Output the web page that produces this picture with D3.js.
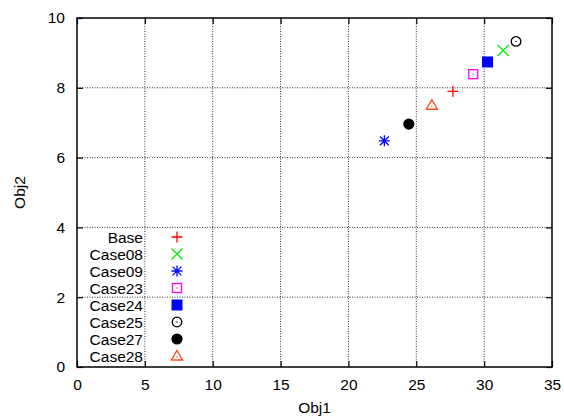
<!DOCTYPE html>
<html>
<head>
<meta charset="utf-8">
<script src="https://cdn.jsdelivr.net/npm/d3@7"></script>
<style>
body { margin: 0; background: #fff; }
text { font-family: "Liberation Sans", Arial, sans-serif; }
</style>
</head>
<body>
<div id="chart"></div>
<script>
const cases = ["Base", "Case08", "Case09", "Case23", "Case24", "Case25", "Case27", "Case28"];
const obj1 = [27.7, 31.4, 22.65, 29.2, 30.25, 32.35, 24.45, 26.15];
const obj2 = [7.9, 9.07, 6.48, 8.39, 8.74, 9.33, 6.96, 7.5];
const colors = ["#ff0000", "#00ee00", "#0000ff", "#ff00ff", "#0000ff", "#000000", "#000000", "#ff5020"];
const shapes = ["plus", "cross", "star", "openSquare", "square", "openCircle", "circle", "openTriangle"];
const xTicks = [0, 5, 10, 15, 20, 25, 30, 35];
const yTicks = [0, 2, 4, 6, 8, 10];

const width = 564, height = 417;
const margin = {top: 18, right: 12, bottom: 50, left: 77};
const fs = 15.5;

const svg = d3.select('#chart').append('svg')
  .attr('width', width).attr('height', height);

const x = d3.scaleLinear().domain([0, 35]).range([margin.left, width - margin.right]);
const y = d3.scaleLinear().domain([0, 10]).range([height - margin.bottom, margin.top]);

// grid
svg.append('g').selectAll('line').data(xTicks.slice(1, -1)).join('line')
  .attr('x1', d => x(d)).attr('x2', d => x(d))
  .attr('y1', y(0)).attr('y2', y(10))
  .attr('stroke', '#333').attr('stroke-width', 1).attr('stroke-dasharray', '1,1.5');
svg.append('g').selectAll('line').data(yTicks.slice(1, -1)).join('line')
  .attr('x1', x(0)).attr('x2', x(35))
  .attr('y1', d => y(d)).attr('y2', d => y(d))
  .attr('stroke', '#333').attr('stroke-width', 1).attr('stroke-dasharray', '1,1.5');

// axes with inward ticks
const xAxis = svg.append('g').attr('transform', `translate(0,${y(0)})`)
  .call(d3.axisBottom(x).tickValues(xTicks).tickSize(-6).tickPadding(12));
const xTop = svg.append('g').attr('transform', `translate(0,${y(10)})`)
  .call(d3.axisTop(x).tickValues(xTicks).tickSize(-6).tickFormat(''));
const yAxis = svg.append('g').attr('transform', `translate(${x(0)},0)`)
  .call(d3.axisLeft(y).tickValues(yTicks).tickSize(-6).tickPadding(12));
const yRight = svg.append('g').attr('transform', `translate(${x(35)},0)`)
  .call(d3.axisRight(y).tickValues(yTicks).tickSize(-6).tickFormat(''));
[xAxis, xTop, yAxis, yRight].forEach(g => {
  g.select('.domain').remove();
  g.selectAll('line').attr('stroke', '#000').attr('stroke-width', 1.2);
  g.selectAll('text').attr('font-size', fs).attr('fill', '#000')
    .style('font-family', '"Liberation Sans", Arial, sans-serif');
});

svg.append('rect')
  .attr('x', x(0)).attr('y', y(10))
  .attr('width', x(35) - x(0)).attr('height', y(0) - y(10))
  .attr('fill', 'none').attr('stroke', '#000').attr('stroke-width', 1.5);

// axis titles
svg.append('text').attr('x', (x(0) + x(35)) / 2).attr('y', 413)
  .attr('text-anchor', 'middle').attr('font-size', fs).text('Obj1');
svg.append('text').attr('transform', `translate(25,${(y(0) + y(10)) / 2}) rotate(-90)`)
  .attr('text-anchor', 'middle').attr('font-size', fs).text('Obj2');

function drawMarker(g, shape, color) {
  const s = 5.5;
  if (shape === 'plus') {
    g.append('path').attr('d', `M${-s},0H${s}M0,${-s}V${s}`)
      .attr('stroke', color).attr('stroke-width', 1.3).attr('fill', 'none');
  } else if (shape === 'cross') {
    g.append('path').attr('d', `M${-s},${-s}L${s},${s}M${-s},${s}L${s},${-s}`)
      .attr('stroke', color).attr('stroke-width', 1.3).attr('fill', 'none');
  } else if (shape === 'star') {
    g.append('path').attr('d', `M${-s},0H${s}M0,${-s}V${s}M${-s*0.8},${-s*0.8}L${s*0.8},${s*0.8}M${-s*0.8},${s*0.8}L${s*0.8},${-s*0.8}`)
      .attr('stroke', color).attr('stroke-width', 1.3).attr('fill', 'none');
  } else if (shape === 'openSquare') {
    g.append('rect').attr('x', -4.5).attr('y', -4.5).attr('width', 9).attr('height', 9)
      .attr('stroke', color).attr('stroke-width', 1.3).attr('fill', 'none');
    g.append('rect').attr('x', -0.6).attr('y', -0.6).attr('width', 1.2).attr('height', 1.2).attr('fill', color);
  } else if (shape === 'square') {
    g.append('rect').attr('x', -5.5).attr('y', -5.5).attr('width', 11).attr('height', 11).attr('fill', color);
  } else if (shape === 'openCircle') {
    g.append('circle').attr('r', 4.8).attr('stroke', color).attr('stroke-width', 1.3).attr('fill', 'none');
    g.append('circle').attr('r', 0.7).attr('fill', color);
  } else if (shape === 'circle') {
    g.append('circle').attr('r', 5.6).attr('fill', color);
  } else if (shape === 'openTriangle') {
    g.append('path').attr('d', 'M0,-5.5L5.5,4L-5.5,4Z')
      .attr('stroke', color).attr('stroke-width', 1.4).attr('fill', 'none');
    g.append('circle').attr('cy', 0.8).attr('r', 0.7).attr('fill', color);
  }
}

// points
cases.forEach((c, i) => {
  const g = svg.append('g').attr('transform', `translate(${x(obj1[i])},${y(obj2[i])})`);
  drawMarker(g, shapes[i], colors[i]);
});

// legend
const legend = svg.append('g');
cases.forEach((c, i) => {
  const ly = 237 + i * 17;
  legend.append('text').attr('x', 143).attr('y', ly + 5.5)
    .attr('text-anchor', 'end').attr('font-size', fs).text(c);
  const g = legend.append('g').attr('transform', `translate(177,${ly})`);
  drawMarker(g, shapes[i], colors[i]);
});
</script>
</body>
</html>
